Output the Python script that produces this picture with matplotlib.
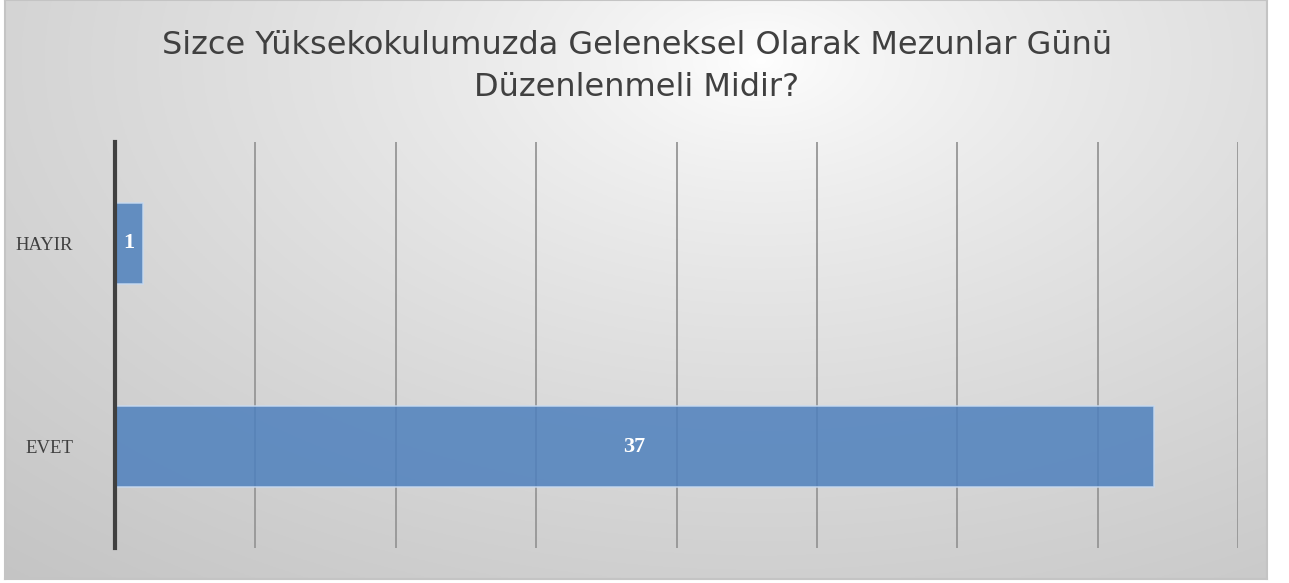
import numpy as np
import matplotlib
matplotlib.use("Agg")
import matplotlib.pyplot as plt

categories = ["EVET", "HAYIR"]
values = [37, 1]
title = "Sizce Yüksekokulumuzda Geleneksel Olarak Mezunlar Günü\nDüzenlenmeli Midir?"
x_ticks = [0, 5, 10, 15, 20, 25, 30, 35, 40]

title_font = ["DejaVu Sans"]
serif_font = ["Liberation Serif", "DejaVu Serif"]

W, H = 1289, 583
fig = plt.figure(figsize=(W / 100, H / 100), dpi=100)
fig.patch.set_facecolor("white")

# background panel with radial gradient
px0, px1, py0, py1 = 5, 1267, 0, 579
bg = fig.add_axes([px0 / W, 1 - py1 / H, (px1 - px0) / W, (py1 - py0) / H])
yy, xx = np.mgrid[0:300, 0:600]
cx, cy = 600 * (760 - px0) / (px1 - px0), 300 * (60 / (py1 - py0))
d = np.sqrt(((xx - cx) / 600) ** 2 + ((yy - cy) / 300) ** 2 * 0.6)
d = np.clip(d / d.max(), 0, 1)
val = 1.0 - 0.23 * d ** 0.75
img = np.dstack([val, val, val])
bg.imshow(img, aspect="auto", extent=[0, 1, 0, 1], origin="upper")
bg.set_xticks([]); bg.set_yticks([])
for s in bg.spines.values():
    s.set_color("#c4c4c4"); s.set_linewidth(1.5)
bg.set_zorder(0)

ax = fig.add_axes([115 / W, 1 - 548 / H, (1238 - 115) / W, (548 - 142) / H])
ax.set_zorder(1)
ax.patch.set_alpha(0)
ypos = np.arange(len(categories))
bars = ax.barh(ypos, values, height=0.4, color="#4f81bd", alpha=0.86,
               edgecolor="#c8daf0", linewidth=1.2, zorder=3)
ax.set_xlim(0, 40)
ax.set_ylim(-0.5, 1.5)
ax.set_xticks(x_ticks)
ax.set_xticklabels([])
ax.tick_params(axis="x", length=0)
ax.tick_params(axis="y", length=0, pad=30)
ax.set_yticks(ypos)
ax.set_yticklabels(categories, fontsize=13.5, color="#404040", family=serif_font)
ax.grid(axis="x", color="#969696", linewidth=1.3, zorder=1)
ax.set_axisbelow(True)
for s in ["top", "right", "bottom"]:
    ax.spines[s].set_visible(False)
ax.spines["left"].set_color("#404040")
ax.spines["left"].set_linewidth(3)
ax.spines["left"].set_zorder(4)

for b, v in zip(bars, values):
    ax.text(b.get_width() / 2, b.get_y() + b.get_height() / 2, str(v),
            ha="center", va="center", color="white", fontsize=16,
            fontweight="bold", family=serif_font, zorder=5)

fig.text(637 / W, 1 - 30 / H, title, ha="center", va="top", fontsize=23,
         color="#404040", family=title_font, linespacing=1.45)

fig.savefig("out.png", dpi=100)
